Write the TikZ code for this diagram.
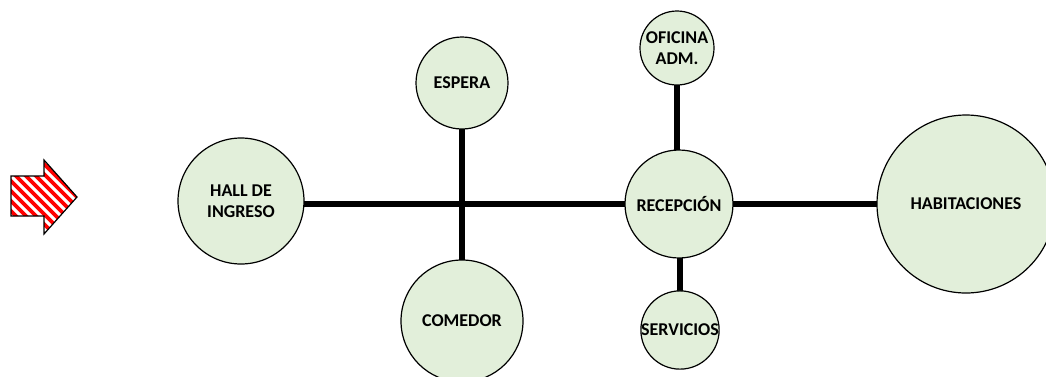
\documentclass[tikz,border=0pt]{standalone}
\usepackage{fontspec}
\setmainfont{Carlito}
\usetikzlibrary{positioning}
\definecolor{roomfill}{HTML}{E2EFDA}
\definecolor{stripe}{HTML}{FF0000}

\begin{document}
\begin{tikzpicture}[x=1pt, y=-1pt,
    room/.style={circle, draw=black, line width=1.2pt, fill=roomfill, inner sep=0pt, align=center, font=\fontsize{18}{21}\selectfont\bfseries},
    link/.style={line width=5.8pt, black}
]
\useasboundingbox (0,0) rectangle (1046,376);

% entrance arrow
\begin{scope}
\clip (11,176) -- (44,176) -- (44,160) -- (77,197) -- (44,234) -- (44,216) -- (11,216) -- cycle;
\fill[white] (0,150) rectangle (90,245);
\foreach \s in {-100,-90,...,90}
    \draw[stripe, line width=3.8pt] (\s,150) -- ++(100,100);
\end{scope}
\draw[line width=1.2pt, line join=miter] (11,176) -- (44,176) -- (44,160) -- (77,197) -- (44,234) -- (44,216) -- (11,216) -- cycle;

% links first, rooms on top
\coordinate (hallc) at (241,201);
\coordinate (espc) at (462,83);
\coordinate (comc) at (462,321);
\coordinate (recc) at (679,204);
\coordinate (ofic) at (677,48);
\coordinate (serc) at (680,330);
\coordinate (habc) at (966,204);

\draw[link] (hallc |- recc) -- (recc);
\draw[link] (recc) -- (habc);
\draw[link] (espc) -- (comc);
\draw[link] (ofic) -- (ofic |- recc);
\draw[link] (serc) -- (serc |- recc);

\node[room, minimum size=126] (hall) at (hallc) {HALL DE\\INGRESO};
\node[room, minimum size=92] (espera) at (espc) {ESPERA};
\node[room, minimum size=122] (comedor) at (comc) {COMEDOR};
\node[room, minimum size=108] (recepcion) at (recc) {RECEPCIÓN};
\node[room, minimum size=74] (oficina) at (ofic) {OFICINA\\ADM.};
\node[room, minimum size=74] (servicios) at (serc) {SERVICIOS};
\node[room, minimum size=178] (habitaciones) at (habc) {HABITACIONES};
\end{tikzpicture}
\end{document}
